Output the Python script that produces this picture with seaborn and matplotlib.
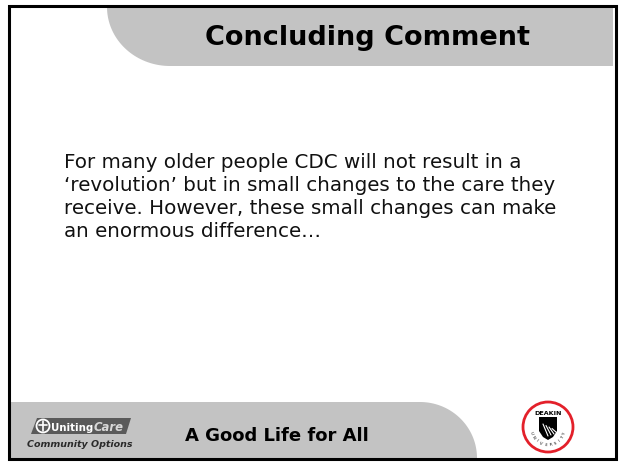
import numpy as np
import matplotlib
matplotlib.use("Agg")
import matplotlib.pyplot as plt
import seaborn as sns
from matplotlib.patches import Polygon, Circle, Rectangle

# ==============================================================================
# slide text
# ==============================================================================
title_text = "Concluding Comment"
body_lines = [
    "For many older people CDC will not result in a",
    "\u2018revolution\u2019 but in small changes to the care they",
    "receive. However, these small changes can make",
    "an enormous difference\u2026",
]
footer_text = "A Good Life for All"
logo_left = ["Uniting", "Care", "Community Options"]
logo_right = ["DEAKIN", "UNIVERSITY"]

sns.set_theme(style="white")
plt.rcParams['font.family'] = ['DejaVu Sans']

W, H = 619, 462
fig = plt.figure(figsize=(W / 100, H / 100), dpi=100)
ax = fig.add_axes([0, 0, 1, 1])
ax.set_xlim(0, W)
ax.set_ylim(H, 0)
ax.axis('off')

GREY = '#c3c3c3'


def fit_width(t, target):
    # shrink / grow font so the text spans target pixels
    r = fig.canvas.get_renderer()
    w = t.get_window_extent(renderer=r).width
    t.set_fontsize(t.get_fontsize() * target / w)


# header band with rounded lower-left corner
tt = np.linspace(0, np.pi / 2, 40)
arc = np.column_stack([170 - 63 * np.sin(tt), 7 + 59 * np.cos(tt)])
head = np.vstack([[[613, 7], [613, 66]], arc])
ax.add_patch(Polygon(head, closed=True, fc=GREY, ec='none', zorder=1))

# footer band with rounded upper-right corner
arc2 = np.column_stack([420 + 57 * np.sin(tt), 458 - 56 * np.cos(tt)])
foot = np.vstack([[[9, 458], [9, 402]], arc2])
ax.add_patch(Polygon(foot, closed=True, fc=GREY, ec='none', zorder=1))

# frame
ax.add_patch(Rectangle((8.5, 5.5), 607, 453, fill=False, ec='black', lw=2.2, zorder=5))

# title
t = ax.text(367.5, 45, title_text, ha='center', va='baseline', fontsize=20,
            fontweight='bold', color='black', zorder=3)
fit_width(t, 325)

# body
body_y = [168, 191, 214, 237]
txts = []
for y, line in zip(body_y, body_lines):
    txts.append(ax.text(64, y, line, ha='left', va='baseline', fontsize=13,
                        color='#111111', zorder=3))
fig.canvas.draw()
r = fig.canvas.get_renderer()
scale = 494 / txts[2].get_window_extent(renderer=r).width
for x in txts:
    x.set_fontsize(x.get_fontsize() * scale)

# footer text
ft = ax.text(185, 441, footer_text, ha='left', va='baseline', fontsize=14,
             fontweight='bold', color='black', zorder=3)
fit_width(ft, 185)

# UnitingCare logo (simplified)
banner = [[37, 418], [131, 418], [126, 434], [31, 434]]
ax.add_patch(Polygon(banner, closed=True, fc='#5a5a5a', ec='none', zorder=3))
ax.add_patch(Circle((43, 426), 6.5, fc='#5a5a5a', ec='white', lw=1.3, zorder=4))
ax.plot([43, 43], [421, 431], color='white', lw=1.2, zorder=5)
ax.plot([39, 47], [424.5, 424.5], color='white', lw=1.2, zorder=5)
u1 = ax.text(51, 431, logo_left[0], ha='left', va='baseline', fontsize=8,
             fontweight='bold', color='white', zorder=5)
fit_width(u1, 42)
u2 = ax.text(94, 431, logo_left[1], ha='left', va='baseline', fontsize=8,
             fontweight='bold', style='italic', color='#d8d8d8', zorder=5)
fit_width(u2, 30)
u3 = ax.text(80, 447, logo_left[2], ha='center', va='baseline', fontsize=7.6,
             fontweight='bold', style='italic', color='#2a2a2a', zorder=5)
fit_width(u3, 105)

# Deakin logo (simplified)
cx, cy = 548, 427
ax.add_patch(Circle((cx, cy), 25, fc='white', ec='#e3202a', lw=2.0, zorder=3))
ax.text(cx, 415, logo_right[0], ha='center', va='baseline', fontsize=4.6,
        fontweight='bold', color='black', zorder=5)
shield = [[539, 417], [557, 417], [557, 431], [553, 437], [548, 440], [543, 437], [539, 431]]
ax.add_patch(Polygon(shield, closed=True, fc='black', ec='none', zorder=4))
for k in range(4):
    x0 = 543 + 3 * k
    ax.plot([x0, x0 + 5], [424 + k * 1.5, 436 - k], color='white', lw=0.8, zorder=5)
letters = logo_right[1]
ang = np.linspace(340, 200, len(letters))
for ch, a in zip(letters, ang):
    ra = np.deg2rad(a)
    ax.text(cx - 18 * np.cos(ra), cy - 18 * np.sin(ra), ch, ha='center', va='center',
            fontsize=2.8, color='black', rotation=270 - a, zorder=5)

plt.savefig('out.png', dpi=100)
plt.close()
